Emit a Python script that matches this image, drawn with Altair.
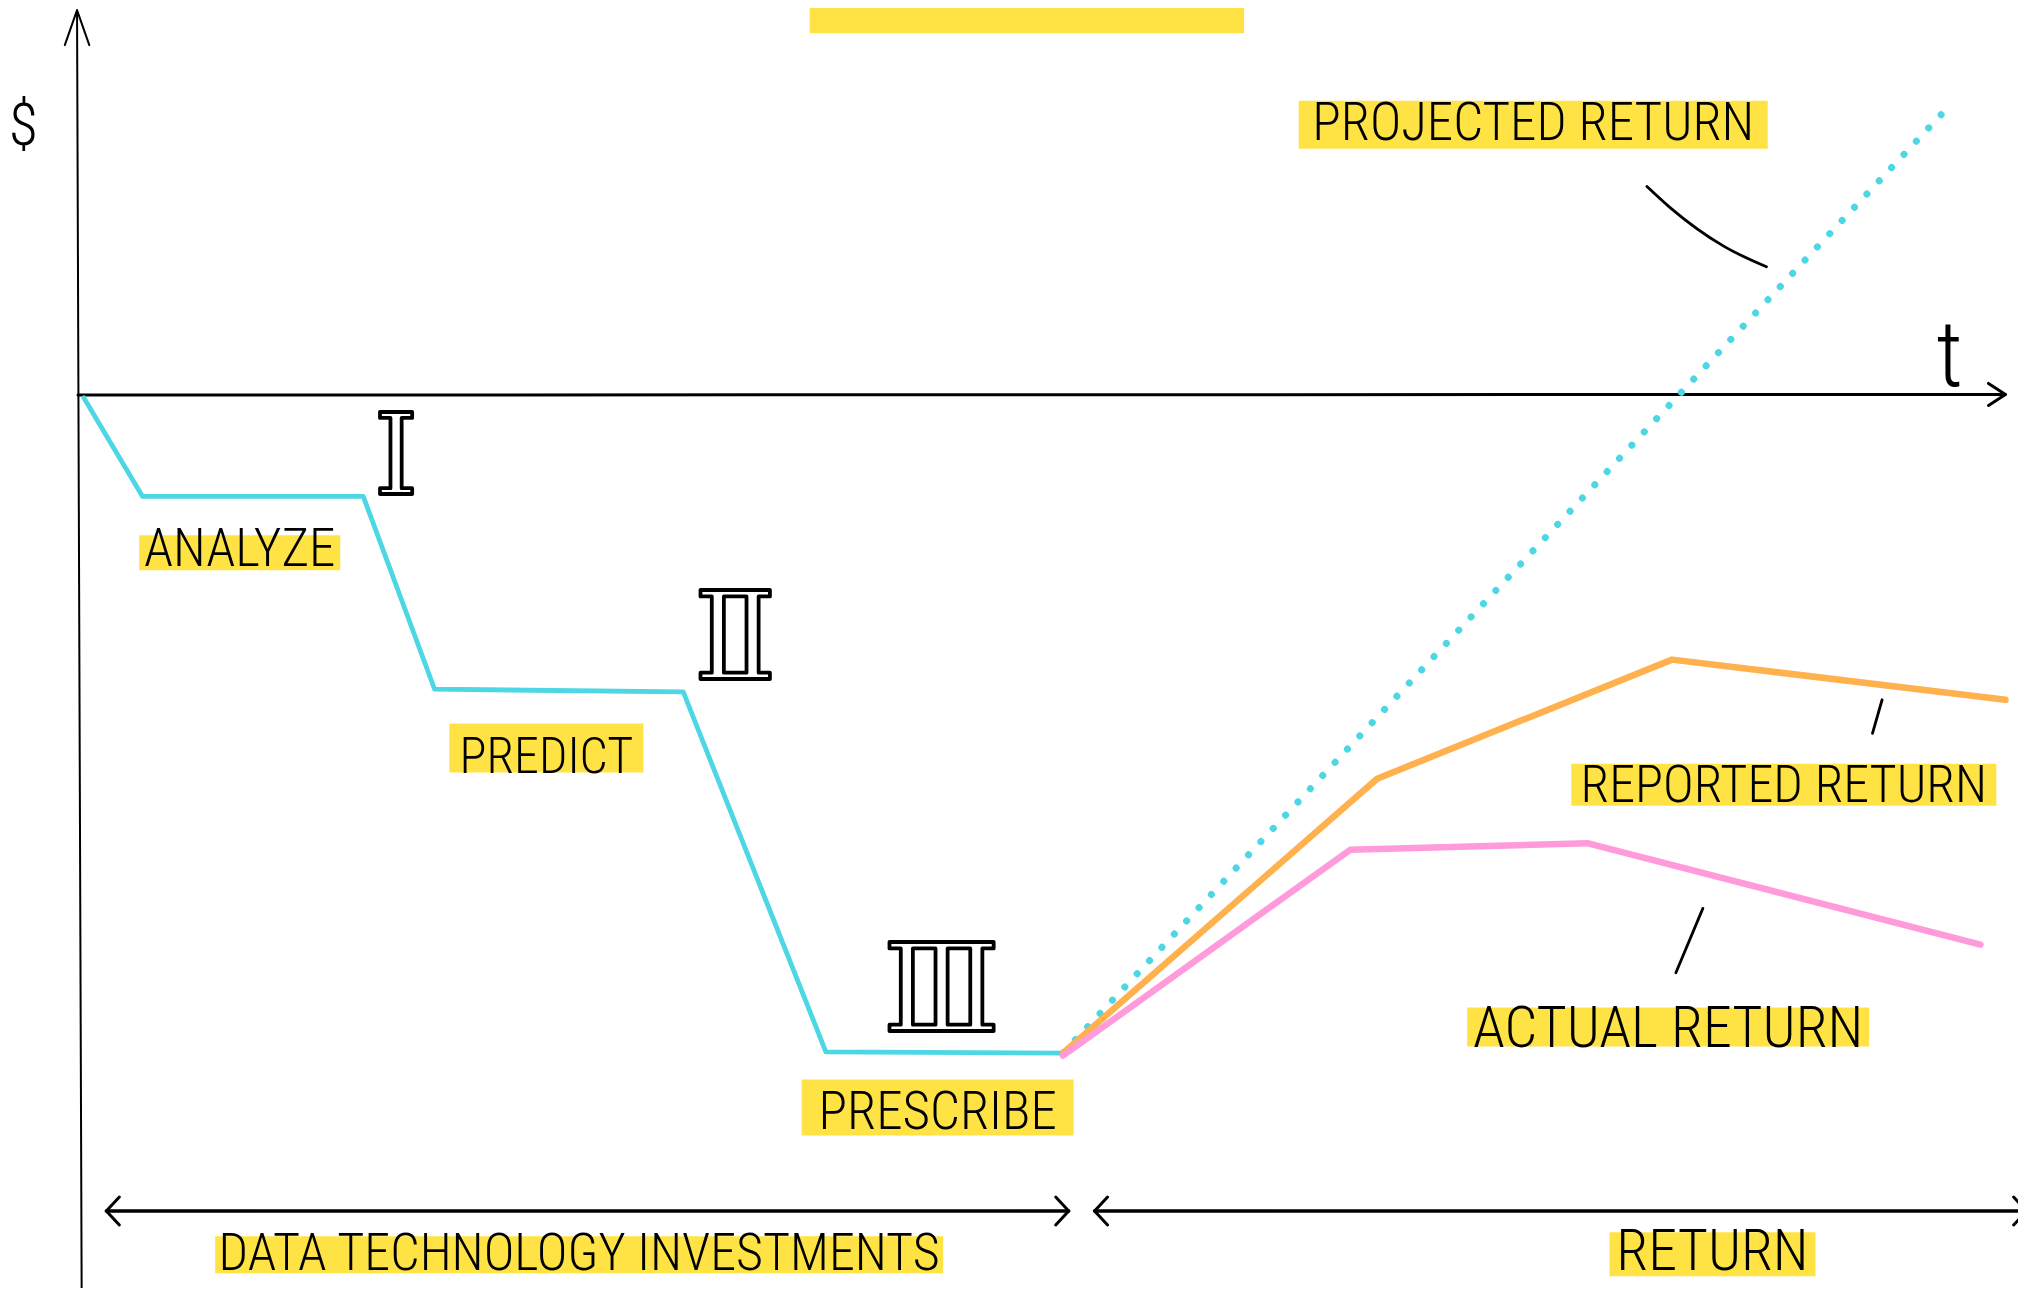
import altair as alt
import pandas as pd

# ---------------- data (t = time units, d = $ units; x-axis at d=0) ----------------
stair_t = [0.3, 3.35, 14.8, 18.5, 31.4, 38.8, 51.1]
stair_d = [-0.4, -15.4, -15.4, -44.7, -45.1, -99.8, -100.0]

proj_t = [51.1, 97.2]
proj_d = [-100.0, 44.3]

rep_t = [51.1, 67.4, 82.7, 100.0]
rep_d = [-100.0, -58.3, -40.2, -46.3]

act_t = [51.1, 66.0, 78.3, 98.7]
act_d = [-100.4, -69.1, -68.1, -83.5]

label_text = ["ANALYZE", "PREDICT", "PRESCRIBE", "PROJECTED RETURN", "REPORTED RETURN",
              "ACTUAL RETURN", "DATA TECHNOLOGY INVESTMENTS", "RETURN"]
label_t = [8.39, 24.3, 44.6, 75.5, 88.5, 82.5, 26.0, 84.8]
label_d = [-26.0, -57.5, -111.6, 38.8, -61.8, -99.0, -133.0, -133.0]

numeral_text = ["\u2160", "\u2161", "\u2162"]
numeral_t = [16.5, 34.1, 44.8]
numeral_d = [-15.0, -43.1, -96.7]

leader_proj_t = [81.4, 82.6, 85.4, 87.6]
leader_proj_d = [31.7, 28.5, 22.6, 19.5]
leader_rep_t = [93.6, 93.1]
leader_rep_d = [-46.3, -51.4]
leader_act_t = [84.3, 82.9]
leader_act_d = [-78.0, -87.8]

axis_label_text = ["$", "t"]
axis_label_t = [-2.84, 97.1]
axis_label_d = [38.0, 1.4]

span_left = [1.47, 51.4]
span_right = [52.74, 101.1]
span_d = -124.0

# ---------------- styles ----------------
CYAN = "#4DD6E4"
ORANGE = "#FFB14E"
PINK = "#FF9ADB"
YELLOW = "#FFE344"
FONT = "Roboto Condensed, Liberation Sans Narrow, DejaVu Sans Condensed, Liberation Sans, sans-serif"

W, H = 2010, 1280
T_MIN, T_MAX = -3.632, 100.65
D_MIN, D_MAX = -135.7, 58.83
PX_T = W / (T_MAX - T_MIN)
PX_D = H / (D_MAX - D_MIN)

label_size = [53, 50, 53, 53, 52, 58, 52, 58]
hl_width = [201, 194, 272, 469, 425, 402, 728, 206]
hl_up = [31, 50, 50, 39, 38, 39, 34, 38]
hl_down = [4, -1, 6, 9, 4, 0, 3, 6]
numeral_size = [113, 122, 122]

xs = alt.Scale(domain=[T_MIN, T_MAX], nice=False, zero=False)
ys = alt.Scale(domain=[D_MIN, D_MAX], nice=False, zero=False)


def X(f="t"):
    return alt.X(f"{f}:Q", scale=xs, axis=None)


def Y(f="d"):
    return alt.Y(f"{f}:Q", scale=ys, axis=None)


def line_df(ts, ds):
    return pd.DataFrame({"t": ts, "d": ds, "o": list(range(len(ts)))})


# highlights
hl = pd.DataFrame({
    "t0": [t - w / 2 / PX_T for t, w in zip(label_t, hl_width)],
    "t1": [t + w / 2 / PX_T for t, w in zip(label_t, hl_width)],
    "d0": [d + u / PX_D for d, u in zip(label_d, hl_up)],
    "d1": [d - b / PX_D for d, b in zip(label_d, hl_down)],
})
highlights = alt.Chart(hl).mark_rect(color=YELLOW).encode(
    x=X("t0"), x2="t1", y=Y("d0"), y2="d1")

top_band = alt.Chart(pd.DataFrame({"t0": [37.96], "t1": [60.5], "d0": [62.0], "d1": [55.0]})).mark_rect(
    color=YELLOW).encode(x=X("t0"), x2="t1", y=Y("d0"), y2="d1")

# axes & span arrows
rules_df = pd.DataFrame({
    "t0": [-0.05, 0.0, span_left[0], span_right[0]],
    "t1": [0.19, 100.0, span_left[1], span_right[1]],
    "d0": [58.5, 0.0, span_d, span_d],
    "d1": [-137.0, 0.1, span_d, span_d],
    "sw": [2.0, 3.0, 3.5, 3.5],
})
rules = alt.Chart(rules_df).mark_rule(color="black", strokeCap="round").encode(
    x=X("t0"), x2="t1", y=Y("d0"), y2="d1", strokeWidth=alt.StrokeWidth("sw:Q", scale=None))

heads_df = pd.DataFrame({
    "t": [-0.05, 100.0, span_left[0], span_left[1], span_right[0], span_right[1]],
    "d": [58.5, 0.1, span_d, span_d, span_d, span_d],
    "shape": ["M-0.35,1L0,0L0.35,1", "M-1,-0.65L0,0L-1,0.65",
              "M0.93,-1L0,0L0.93,1", "M-0.93,-1L0,0L-0.93,1",
              "M0.93,-1L0,0L0.93,1", "M-0.93,-1L0,0L-0.93,1"],
    "size": [4900, 1156, 784, 784, 784, 784],
    "sw": [2.0, 3.0, 3.0, 3.0, 3.0, 3.0],
})
heads = alt.Chart(heads_df).mark_point(filled=False, color="black", opacity=1, strokeCap="round",
                                       strokeJoin="round").encode(
    x=X(), y=Y(),
    shape=alt.Shape("shape:N", scale=None),
    size=alt.Size("size:Q", scale=None),
    strokeWidth=alt.StrokeWidth("sw:Q", scale=None))


def series(ts, ds, color, width, **kw):
    return alt.Chart(line_df(ts, ds)).mark_line(color=color, strokeWidth=width, strokeJoin="round",
                                                **kw).encode(x=X(), y=Y(), order="o:Q")


stair = series(stair_t, stair_d, CYAN, 4.8, strokeCap="round")
proj = series(proj_t, proj_d, CYAN, 7, strokeCap="round", strokeDash=[0.1, 18])
rep = series(rep_t, rep_d, ORANGE, 6.5, strokeCap="round")
act = series(act_t, act_d, PINK, 6.5, strokeCap="round")

lead_frames = []
for i, (ts, ds) in enumerate([(leader_proj_t, leader_proj_d), (leader_rep_t, leader_rep_d),
                              (leader_act_t, leader_act_d)]):
    f = line_df(ts, ds)
    f["g"] = i
    lead_frames.append(f)
leaders = alt.Chart(pd.concat(lead_frames)).mark_line(color="black", strokeWidth=2.8, strokeCap="round",
                                                     interpolate="monotone").encode(
    x=X(), y=Y(), order="o:Q", detail="g:N")

labels_df = pd.DataFrame({"t": label_t, "d": label_d, "txt": label_text, "fs": label_size})
labels = alt.Chart(labels_df).mark_text(font=FONT, fontWeight=300, align="center", baseline="alphabetic",
                                        color="black").encode(
    x=X(), y=Y(), text="txt:N", size=alt.Size("fs:Q", scale=None))

num_df = pd.DataFrame({"t": numeral_t, "d": numeral_d, "txt": numeral_text, "fs": numeral_size})
numerals = alt.Chart(num_df).mark_text(font="DejaVu Serif", align="center",
                                       baseline="alphabetic", fill="white", stroke="black",
                                       strokeWidth=3.8, strokeJoin="round").encode(
    x=X(), y=Y(), text="txt:N", size=alt.Size("fs:Q", scale=None))

axl_df = pd.DataFrame({"t": axis_label_t, "d": axis_label_d, "txt": axis_label_text, "fs": [60, 92]})
axis_labels = alt.Chart(axl_df).mark_text(font=FONT, fontWeight=300, align="center", baseline="alphabetic",
                                          color="black").encode(
    x=X(), y=Y(), text="txt:N", size=alt.Size("fs:Q", scale=None))

chart = alt.layer(
    top_band, highlights, rules, heads, stair, proj, rep, act, leaders,
    labels, numerals, axis_labels
).properties(
    width=W, height=H, padding=0, autosize=alt.AutoSizeParams(type="none"), background="white"
).configure_view(stroke=None)

chart.save("out.html", embed_options={"renderer": "svg", "actions": False})
